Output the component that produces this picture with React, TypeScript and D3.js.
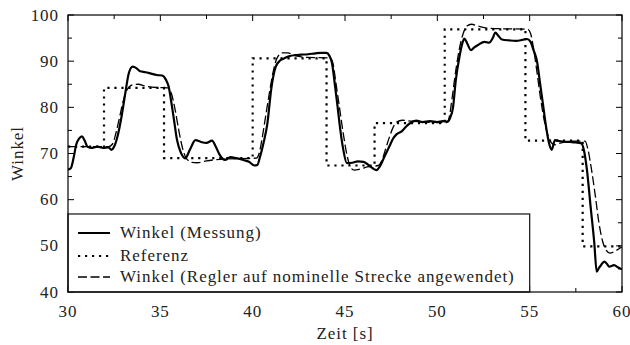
import React, { useEffect, useRef } from "react";
import * as d3 from "d3";

// Referenz (Sprungfolge): Zeitpunkte und Werte
const refTimes = [30, 31.95, 35.2, 40.0, 44.0, 46.6, 50.4, 54.77, 57.87, 60];
const refValues = [71.5, 84.2, 69.0, 90.6, 67.4, 76.6, 96.9, 72.8, 49.9, 49.9];

// Winkel (Messung)
const measTimes = [
  30.0, 30.15, 30.3, 30.45, 30.6, 30.75, 30.9, 31.05, 31.3, 31.6, 31.9, 32.2, 32.35, 32.5, 32.7, 32.9, 33.1,
  33.3, 33.5, 33.7, 33.9, 34.2, 34.5, 34.8, 35.1, 35.3, 35.45, 35.6, 35.75, 35.9, 36.1, 36.35, 36.6, 36.9,
  37.2, 37.5, 37.8, 38.0, 38.2, 38.5, 38.8, 39.1, 39.5, 39.8, 40.1, 40.25, 40.4, 40.6, 40.8, 41.0, 41.25,
  41.5, 41.7, 42.0, 42.3, 42.6, 43.0, 43.4, 43.7, 44.0, 44.15, 44.3, 44.45, 44.6, 44.75, 44.9, 45.1, 45.4,
  45.7, 46.0, 46.3, 46.5, 46.7, 46.9, 47.1, 47.4, 47.6, 47.8, 48.1, 48.3, 48.5, 48.85, 49.2, 49.6, 50.0,
  50.3, 50.55, 50.7, 50.85, 51.0, 51.2, 51.35, 51.46, 51.6, 51.82, 52.0, 52.2, 52.55, 52.8, 53.0, 53.14,
  53.3, 53.5, 53.9, 54.26, 54.6, 54.85, 55.05, 55.2, 55.4, 55.57, 55.74, 55.9, 56.05, 56.19, 56.37, 56.6,
  56.8, 57.2, 57.5, 57.8, 57.95, 58.1, 58.3, 58.5, 58.63, 58.75, 58.86, 59.04, 59.2, 59.3, 59.57, 59.8, 60.0,
];
const measValues = [
  66.5, 66.8, 69.0, 72.0, 73.2, 73.7, 72.8, 71.5, 71.2, 71.5, 71.2, 71.3, 70.8, 71.5, 74.0, 78.0, 83.0,
  87.5, 88.8, 88.5, 87.8, 87.6, 87.3, 87.0, 86.9, 86.0, 84.5, 81.0, 77.0, 73.0, 70.3, 69.0, 70.8, 72.9,
  72.5, 72.3, 72.8, 71.5, 69.8, 68.6, 69.2, 69.0, 68.6, 68.2, 67.4, 67.5, 69.3, 72.5, 76.6, 83.8, 88.8,
  90.2, 90.6, 91.1, 91.3, 91.4, 91.5, 91.7, 91.8, 91.8, 91.2, 89.5, 85.0, 80.1, 75.0, 71.0, 67.9, 68.0,
  68.3, 68.2, 67.4, 66.8, 66.4, 67.3, 69.0, 71.5, 73.2, 74.2, 74.9, 75.8, 76.5, 77.1, 76.8, 77.0, 76.8,
  77.0, 76.9, 77.8, 80.0, 85.9, 91.0, 93.8, 94.9, 94.0, 92.4, 93.0, 93.5, 94.2, 94.0, 95.0, 96.2,
  95.5, 94.7, 94.5, 94.4, 94.6, 94.8, 94.2, 92.5, 89.9, 85.0, 80.1, 75.5, 72.2, 70.8, 72.9, 72.7,
  72.6, 72.5, 72.4, 72.2, 70.5, 66.5, 58.5, 50.6, 44.4, 45.2, 45.8, 46.6, 46.0, 45.5, 45.8, 45.3, 44.9,
];

// Winkel (Regler auf nominelle Strecke angewendet)
const simTimes = [
  30, 32.2, 32.4, 32.6, 32.8, 33.0, 33.2, 33.5, 33.8, 34.2, 34.8, 35.4, 35.6, 35.8, 36.0, 36.2, 36.4, 36.7,
  37.0, 37.5, 38.5, 40.2, 40.35, 40.5, 40.7, 40.9, 41.1, 41.3, 41.6, 41.9, 42.3, 43.0, 44.2, 44.35, 44.5,
  44.7, 44.9, 45.1, 45.3, 45.5, 45.8, 46.2, 46.8, 47.0, 47.2, 47.4, 47.6, 47.8, 48.1, 48.6, 50.5, 50.65,
  50.8, 51.0, 51.2, 51.4, 51.6, 51.85, 52.2, 52.8, 54.9, 55.05, 55.2, 55.4, 55.57, 55.85, 56.1, 56.35,
  56.7, 57.5, 58.0, 58.15, 58.35, 58.55, 58.75, 58.95, 59.15, 59.35, 59.6, 60,
];
const simValues = [
  71.5, 71.5, 72.0, 74.5, 78.0, 81.5, 83.8, 84.9, 85.0, 84.6, 84.3, 84.2, 83.0, 79.5, 75.0, 71.2, 69.0, 68.1,
  68.0, 68.4, 68.8, 69.0, 70.0, 73.0, 78.0, 83.0, 87.5, 90.5, 91.8, 91.8, 91.2, 90.8, 90.7, 89.5, 85.5,
  80.0, 74.5, 69.8, 67.0, 66.4, 66.6, 67.1, 67.4, 68.5, 71.0, 73.5, 75.6, 76.8, 77.2, 77.0, 76.7, 78.0,
  82.0, 88.0, 92.8, 96.0, 97.6, 98.0, 97.6, 97.1, 96.9, 96.0, 93.0, 87.5, 82.5, 76.0, 72.8, 71.9,
  72.3, 72.7, 72.7, 71.0, 66.5, 61.0, 55.0, 51.0, 49.0, 48.4, 48.8, 49.8,
];

const xTicks = [30, 35, 40, 45, 50, 55, 60];
const yTicks = [40, 50, 60, 70, 80, 90, 100];

const legendLabels = [
  "Winkel (Messung)",
  "Referenz",
  "Winkel (Regler auf nominelle Strecke angewendet)",
];

const W = 630;
const H = 345;
const FONT = "'Liberation Serif', 'DejaVu Serif', serif";
const FS = 17;
const LS = 0.95;

function Chart() {
  const ref = useRef<SVGSVGElement | null>(null);

  useEffect(() => {
    const svg = d3.select(ref.current);
    svg.selectAll("*").remove();

    const margin = { top: 15, right: 8, bottom: 53, left: 68 };
    const iw = W - margin.left - margin.right;
    const ih = H - margin.top - margin.bottom;

    const x = d3.scaleLinear().domain([30, 60]).range([0, iw]);
    const y = d3.scaleLinear().domain([40, 100]).range([ih, 0]);

    const g = svg.append("g").attr("transform", `translate(${margin.left},${margin.top})`);

    const clip = svg.append("defs").append("clipPath").attr("id", "plotclip");
    clip.append("rect").attr("width", iw).attr("height", ih);

    const lines = g.append("g").attr("clip-path", "url(#plotclip)");

    const ref_ = refTimes.map((t, i) => [t, refValues[i]] as [number, number]);
    const meas = measTimes.map((t, i) => [t, measValues[i]] as [number, number]);
    const sim = simTimes.map((t, i) => [t, simValues[i]] as [number, number]);

    const lineStep = d3.line<[number, number]>().x((d) => x(d[0])).y((d) => y(d[1])).curve(d3.curveStepAfter);
    const lineSmooth = d3.line<[number, number]>().x((d) => x(d[0])).y((d) => y(d[1])).curve(d3.curveMonotoneX);

    lines
      .append("path")
      .attr("d", lineStep(ref_))
      .attr("fill", "none")
      .attr("stroke", "#000")
      .attr("stroke-width", 2.2)
      .attr("stroke-dasharray", "2.2,4.8");

    lines
      .append("path")
      .attr("d", lineSmooth(sim))
      .attr("fill", "none")
      .attr("stroke", "#000")
      .attr("stroke-width", 1.3)
      .attr("stroke-dasharray", "9,3.5");

    lines
      .append("path")
      .attr("d", lineSmooth(meas))
      .attr("fill", "none")
      .attr("stroke", "#000")
      .attr("stroke-width", 2.2)
      .attr("stroke-linejoin", "round");

    // Rahmen und Ticks (nach innen, auf allen Seiten)
    const ticksX = d3.range(30, 60.01, 2.5);
    const ticksY = d3.range(40, 100.01, 5);
    const frame = g.append("g").attr("stroke", "#000").attr("stroke-width", 1);
    ticksX.forEach((t) => {
      const len = t % 5 === 0 ? 6 : 4;
      frame.append("line").attr("x1", x(t)).attr("x2", x(t)).attr("y1", ih).attr("y2", ih - len);
      frame.append("line").attr("x1", x(t)).attr("x2", x(t)).attr("y1", 0).attr("y2", len);
    });
    ticksY.forEach((v) => {
      const len = v % 10 === 0 ? 6 : 4;
      frame.append("line").attr("x1", 0).attr("x2", len).attr("y1", y(v)).attr("y2", y(v));
      frame.append("line").attr("x1", iw).attr("x2", iw - len).attr("y1", y(v)).attr("y2", y(v));
    });

    // Legende
    const lx0 = 0;
    const lx1 = x(55);
    const ly0 = y(56.9);
    g.append("rect")
      .attr("x", lx0)
      .attr("y", ly0)
      .attr("width", lx1 - lx0)
      .attr("height", ih - ly0)
      .attr("fill", "#fff")
      .attr("stroke", "#222")
      .attr("stroke-width", 1.3);

    const rowY = [233, 256, 277].map((v) => v - margin.top);
    const styles = [
      { w: 2, dash: null },
      { w: 2.2, dash: "2.2,4.8" },
      { w: 1.3, dash: "9,3.5" },
    ];
    legendLabels.forEach((label, i) => {
      const ln = g
        .append("line")
        .attr("x1", 10)
        .attr("x2", 42)
        .attr("y1", rowY[i])
        .attr("y2", rowY[i])
        .attr("stroke", "#000")
        .attr("stroke-width", styles[i].w);
      if (styles[i].dash) ln.attr("stroke-dasharray", styles[i].dash);
      g.append("text")
        .attr("x", 52)
        .attr("y", rowY[i] + 5)
        .attr("font-family", FONT)
        .attr("font-size", FS)
        .attr("letter-spacing", LS)
        .attr("fill", "#222")
        .text(label);
    });

    g.append("rect")
      .attr("width", iw)
      .attr("height", ih)
      .attr("fill", "none")
      .attr("stroke", "#000")
      .attr("stroke-width", 1.2);

    // Achsenbeschriftung
    xTicks.forEach((t) => {
      g.append("text")
        .attr("x", x(t))
        .attr("y", ih + 25)
        .attr("text-anchor", "middle")
        .attr("font-family", FONT)
        .attr("font-size", FS)
        .attr("letter-spacing", LS)
        .attr("fill", "#222")
        .text(t);
    });
    yTicks.forEach((v) => {
      g.append("text")
        .attr("x", -9)
        .attr("y", y(v) + 5.5)
        .attr("text-anchor", "end")
        .attr("font-family", FONT)
        .attr("font-size", FS)
        .attr("letter-spacing", LS)
        .attr("fill", "#222")
        .text(v);
    });

    svg
      .append("text")
      .attr("x", margin.left + iw / 2)
      .attr("y", 339)
      .attr("text-anchor", "middle")
      .attr("font-family", FONT)
      .attr("font-size", FS)
      .attr("letter-spacing", LS)
      .attr("fill", "#222")
      .text("Zeit [s]");

    svg
      .append("text")
      .attr("transform", `translate(23,${margin.top + ih / 2}) rotate(-90)`)
      .attr("text-anchor", "middle")
      .attr("font-family", FONT)
      .attr("font-size", FS)
      .attr("letter-spacing", LS)
      .attr("fill", "#222")
      .text("Winkel");
  }, []);

  return <svg ref={ref} width={W} height={H} style={{ display: "block", background: "#fff" }} />;
}

export default function App() {
  return (
    <div style={{ position: "absolute", left: 0, top: 0, width: W, height: H, background: "#fff" }}>
      <Chart />
    </div>
  );
}
